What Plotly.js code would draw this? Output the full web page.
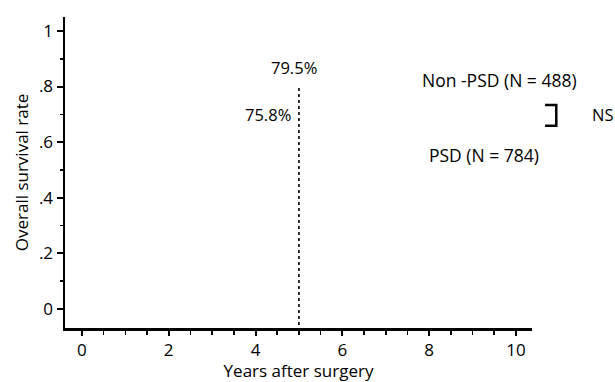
<!DOCTYPE html>
<html>
<head>
<meta charset="utf-8">
<script src="https://cdn.plot.ly/plotly-3.0.1.min.js"></script>
<style>html,body{margin:0;padding:0;background:#fff;}#chart{width:615px;height:382px;}</style>
</head>
<body>
<div id="chart"></div>
<script>
// Data
var xTickVals = [0, 2, 4, 6, 8, 10];
var yTickVals = [0, 0.2, 0.4, 0.6, 0.8, 1];
var yTickText = ["0", ".2", ".4", ".6", ".8", "1"];
var markYear = 5;
var nonPsdRate = 0.795;
var psdRate = 0.758;
var groupLabels = ["Non -PSD (N = 488)", "PSD (N = 784)"];
var rateLabels = ["79.5%", "75.8%"];
var sigLabel = "NS";

var xRange = [-0.39, 10.37];
var yRange = [-0.068, 1.05];
var font = "'Open Sans', sans-serif";
var ink = "#000";

var traces = [{
  x: [markYear, markYear],
  y: [nonPsdRate, yRange[0]],
  mode: "lines",
  line: {color: ink, width: 1.6, dash: "dot"},
  hoverinfo: "skip",
  showlegend: false,
  cliponaxis: false
}];

var layout = {
  width: 615, height: 382,
  margin: {l: 65, r: 83, t: 17, b: 54},
  paper_bgcolor: "#fff", plot_bgcolor: "#fff",
  font: {family: font, size: 17, color: ink},
  showlegend: false,
  xaxis: {
    range: xRange, tickvals: xTickVals, ticktext: xTickVals.map(String),
    showgrid: false, zeroline: false,
    showline: true, linecolor: ink, linewidth: 2.5,
    ticks: "outside", ticklen: 5, tickwidth: 2, tickcolor: ink,
    minor: {dtick: 0.5, tick0: 0, ticks: "outside", ticklen: 4, tickwidth: 1.6, tickcolor: ink, showgrid: false},
    tickfont: {family: font, size: 17, color: ink},
    title: {text: "Years after surgery", font: {family: font, size: 17, color: ink}, standoff: 3}
  },
  yaxis: {
    range: yRange, tickvals: yTickVals, ticktext: yTickText,
    showgrid: false, zeroline: false,
    showline: true, linecolor: ink, linewidth: 2.5,
    ticks: "outside", ticklen: 6, tickwidth: 2, tickcolor: ink,
    minor: {dtick: 0.1, tick0: 0, ticks: "outside", ticklen: 3, tickwidth: 1.6, tickcolor: ink, showgrid: false},
    tickfont: {family: font, size: 17, color: ink},
    title: {text: "Overall survival rate", font: {family: font, size: 17, color: ink}, standoff: 6}
  },
  annotations: [
    {x: 4.88, y: 0.867, xref: "x", yref: "y", text: rateLabels[0], showarrow: false, xanchor: "center", yanchor: "middle", font: {size: 16.5}},
    {x: 4.86, y: 0.70, xref: "x", yref: "y", text: rateLabels[1], showarrow: false, xanchor: "right", yanchor: "middle", font: {size: 16.5}},
    {x: 9.63, y: 0.824, xref: "x", yref: "y", text: groupLabels[0], showarrow: false, xanchor: "center", yanchor: "middle", font: {size: 17.5}},
    {x: 9.26, y: 0.554, xref: "x", yref: "y", text: groupLabels[1], showarrow: false, xanchor: "center", yanchor: "middle", font: {size: 17.5}},
    {x: 1.152, y: 0.698, xref: "paper", yref: "y", text: sigLabel, showarrow: false, xanchor: "center", yanchor: "middle", font: {size: 16.5}}
  ],
  shapes: [
    {type: "path", xref: "paper", yref: "paper",
     path: "M 1.028 0.717 L 1.052 0.717 L 1.052 0.650 L 1.028 0.650",
     line: {color: ink, width: 2.5}}
  ]
};

Plotly.newPlot("chart", traces, layout, {staticPlot: true, displayModeBar: false});
</script>
</body>
</html>
